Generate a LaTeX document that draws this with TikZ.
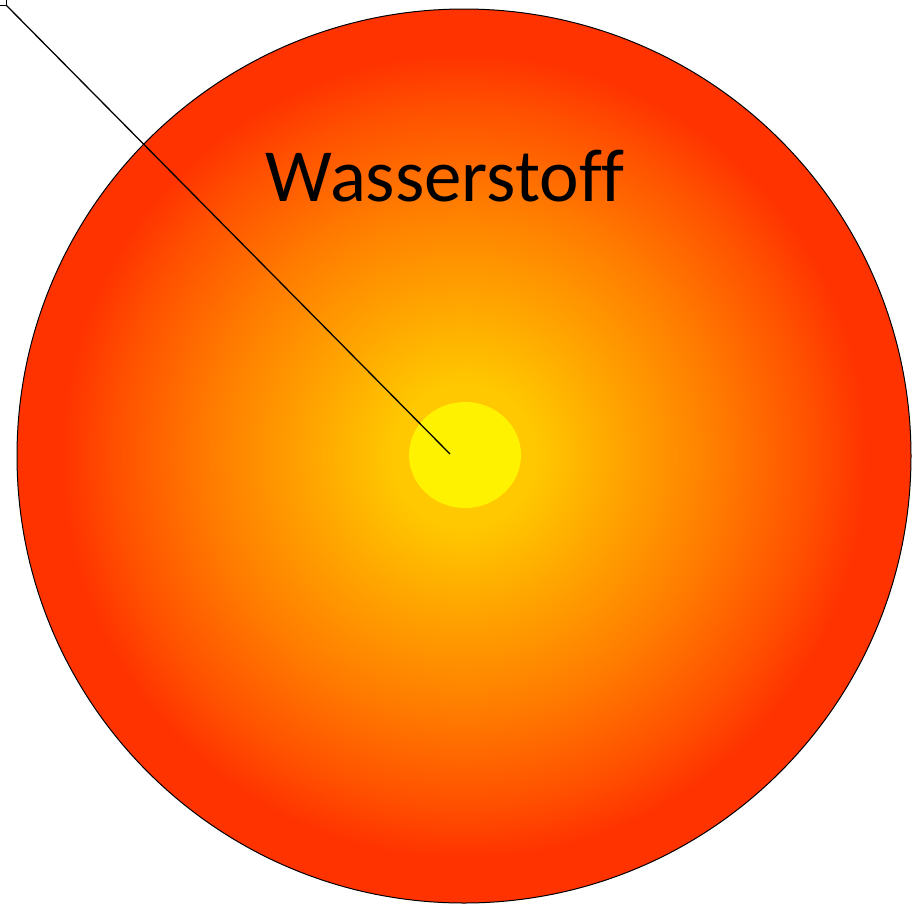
\documentclass[tikz,border=0pt]{standalone}
\usepackage{fontspec}
\setmainfont[Ligatures=NoCommon]{Carlito}
\definecolor{cA}{HTML}{FFC800}
\definecolor{cB}{HTML}{FFA600}
\definecolor{cC}{HTML}{FF7E00}
\definecolor{cD}{HTML}{FF5000}
\definecolor{cE}{HTML}{FF3300}
\pgfdeclareradialshading{sunshade}{\pgfpoint{0bp}{0bp}}{color(0bp)=(cA); color(4bp)=(cA); color(8.5bp)=(cB); color(14bp)=(cC); color(19.5bp)=(cD); color(22.5bp)=(cE); color(50bp)=(cE)}
\begin{document}
\begin{tikzpicture}[x=1pt,y=-1pt,
  lbl/.style={font=\fontsize{75}{80}\selectfont,inner sep=0pt,anchor=center}]
\useasboundingbox (0,0) rectangle (913,908);
\fill[white] (0,0) rectangle (913,908);
\shade[shading=sunshade] (464,456) circle[radius=447];
\draw[line width=1pt] (464,456) circle[radius=447];
\fill[yellow] (465,455) ellipse[x radius=56, y radius=53];
\node[lbl] (t) at (445,176) {Wasserstoff};
\coordinate (c) at (450,454);
\node[draw=black,line width=1pt,minimum width=14pt,minimum height=12pt,inner sep=0pt] (box) at (-1,-1) {};
\draw[line width=1.3pt] (c) -- (box.south east);
\end{tikzpicture}
\end{document}
